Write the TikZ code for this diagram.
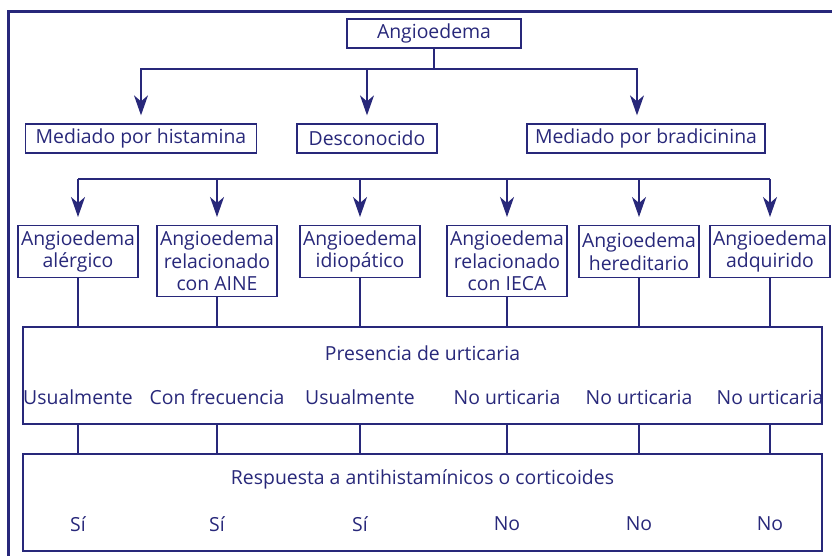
\documentclass[tikz,border=0pt]{standalone}
\usepackage{fontspec}
\setmainfont{Open Sans}
\usetikzlibrary{arrows.meta}
\definecolor{navy}{RGB}{40,40,122}

\begin{document}
\begin{tikzpicture}[
    x=1pt, y=-1pt,
    every node/.style={text=navy, font=\fontsize{19.4}{22.5}\selectfont},
    block/.style={draw=navy, line width=1.3pt, align=center, inner sep=0pt, minimum height=29pt},
    kind/.style={block, minimum width=120pt, anchor=north},
    panel/.style={draw=navy, line width=1.3pt, minimum width=799pt, minimum height=97pt, inner sep=0pt},
    link/.style={-{Stealth[length=20pt, width=14pt, inset=6pt]}, draw=navy, line width=1.3pt, shorten >=8pt},
    wire/.style={draw=navy, line width=1.3pt}
]
\useasboundingbox (0,0) rectangle (832,555);
\draw[navy, line width=3pt] (8,11) rectangle (900,620);

\node[block, minimum width=174pt] (root) at (434,33.5) {Angioedema};
\node[block, minimum width=231pt] (hist) at (141,138.5) {Mediado por histamina};
\node[block, minimum width=140pt] (desc) at (367,138.5) {Desconocido};
\node[block, minimum width=238pt] (brad) at (646,138.5) {Mediado por bradicinina};

\node[kind, minimum height=52pt] (a1) at (78,225) {Angioedema\\alérgico};
\node[kind, minimum height=71pt] (a2) at (217,225) {Angioedema\\relacionado\\con AINE};
\node[kind, minimum height=52pt] (a3) at (360,225) {Angioedema\\idiopático};
\node[kind, minimum height=71pt] (a4) at (507,225) {Angioedema\\relacionado\\con IECA};
\node[kind, minimum height=52pt] (a5) at (639,225) {Angioedema\\hereditario};
\node[kind, minimum height=52pt] (a6) at (770,225) {Angioedema\\adquirido};

\node[panel] (pres) at (422.5,375.5) {};
\node (prest) at (422.5,353) {Presencia de urticaria};
\node[panel] (resp) at (422.5,502.5) {};
\node (respt) at (422.5,479) {Respuesta a antihistamínicos o corticoides};

\coordinate (fork) at (434,69);
\coordinate (bus) at (0,179);
\coordinate (row1) at (0,397);
\coordinate (row2) at (0,524);

\draw[wire] (root.south) -- (fork);
\draw[link] (fork) -| (hist.north);
\draw[link] (fork) -| (desc.north);
\draw[link] (fork) -| ([xshift=-9pt]brad.north);

\draw[wire] (bus -| a1) -- (bus -| a6);
\foreach \i in {1,...,6} {
    \draw[link] (bus -| a\i) -- (a\i.north);
    \draw[wire] (a\i.south) -- (a\i |- pres.north);
    \draw[wire] (a\i |- pres.south) -- (a\i |- resp.north);
}

\foreach \i/\t in {1/Usualmente, 2/Con frecuencia, 3/Usualmente, 4/No urticaria, 5/No urticaria, 6/No urticaria}
    \node (u\i) at (a\i |- row1) {\t};
\foreach \i/\t in {1/Sí, 2/Sí, 3/Sí, 4/No, 5/No, 6/No}
    \node (r\i) at (a\i |- row2) {\t};
\end{tikzpicture}
\end{document}
